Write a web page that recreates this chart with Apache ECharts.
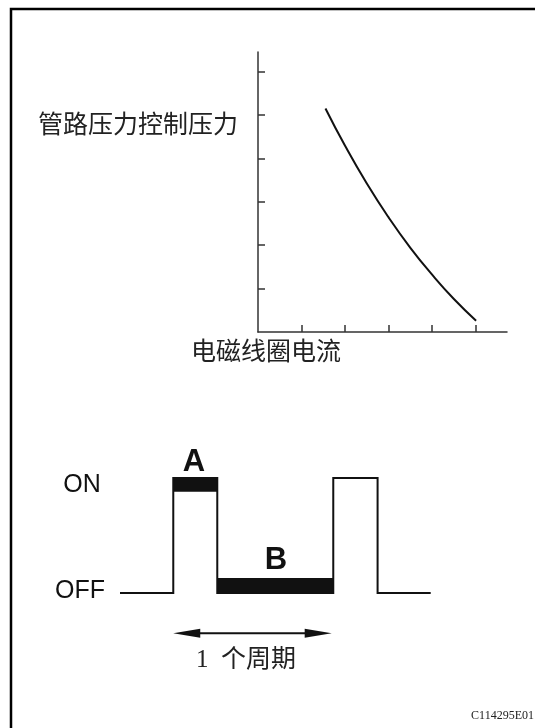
<!DOCTYPE html>
<html>
<head>
<meta charset="utf-8">
<script src="https://cdn.jsdelivr.net/npm/echarts@6/dist/echarts.min.js"></script>
<style>
  html, body { margin: 0; padding: 0; background: #fff; }
  #chart { width: 535px; height: 728px; }
</style>
</head>
<body>
<div id="chart"></div>
<script>
  // top: line pressure vs solenoid current
  var coilCurrent = [1.55, 2.0, 2.5, 3.0, 3.5, 4.0, 4.5, 5.01];
  var linePressure = [5.15, 4.29, 3.42, 2.64, 1.94, 1.32, 0.76, 0.26];
  var currentTicks = [1, 2, 3, 4, 5];
  var pressureTicks = [1, 2, 3, 4, 5, 6];

  // bottom: duty signal
  var pulseTime = [0, 3.33, 3.33, 6.08, 6.08, 13.33, 13.33, 16.1, 16.1, 19.42];
  var pulseState = [0, 0, 1, 1, 0, 0, 1, 1, 0, 0];
  var bandNames = ['A', 'B'];
  var bandFrom = [3.33, 6.08];
  var bandTo = [6.08, 13.33];
  var bandLow = [0.88, 0];
  var bandHigh = [1, 0.13];
  var periodFrom = 3.33;
  var periodTo = 13.23;
  var periodLevel = -0.35;

  var CJK = '"Noto Sans CJK SC", sans-serif';
  var INK = '#111';
  var HEAD_LEN = 27;
  var HEAD_HALF = 4.5;

  function zip(a, b) {
    return a.map(function (v, i) { return [v, b[i]]; });
  }

  var bands = bandFrom.map(function (v, i) {
    return { name: bandNames[i], value: [v, bandTo[i], bandLow[i], bandHigh[i]] };
  });

  function renderBand(params, api) {
    var p0 = api.coord([api.value(0), api.value(3)]);
    var p1 = api.coord([api.value(1), api.value(2)]);
    return {
      type: 'rect',
      shape: { x: p0[0], y: p0[1], width: p1[0] - p0[0], height: p1[1] - p0[1] },
      style: { fill: INK }
    };
  }

  // double-headed arrow spanning one period
  function renderPeriod(params, api) {
    var a = api.coord([api.value(0), api.value(2)]);
    var b = api.coord([api.value(1), api.value(2)]);
    var y = a[1];
    return {
      type: 'group',
      children: [
        {
          type: 'line',
          shape: { x1: a[0] + HEAD_LEN / 2, y1: y, x2: b[0] - HEAD_LEN / 2, y2: y },
          style: { stroke: INK, lineWidth: 2 }
        },
        {
          type: 'polygon',
          shape: { points: [[a[0], y], [a[0] + HEAD_LEN, y - HEAD_HALF], [a[0] + HEAD_LEN, y + HEAD_HALF]] },
          style: { fill: INK }
        },
        {
          type: 'polygon',
          shape: { points: [[b[0], y], [b[0] - HEAD_LEN, y - HEAD_HALF], [b[0] - HEAD_LEN, y + HEAD_HALF]] },
          style: { fill: INK }
        }
      ]
    };
  }

  var chart = echarts.init(document.getElementById('chart'), null, { renderer: 'canvas' });

  chart.setOption({
    animation: false,
    backgroundColor: '#fff',
    grid: [
      { left: 258, top: 52, width: 249, height: 280 },
      { left: 120, top: 478, width: 310.7, height: 184 }
    ],
    xAxis: [
      {
        gridIndex: 0, type: 'value', min: 0, max: 5.72,
        axisLine: { lineStyle: { color: '#333', width: 1.5 } },
        axisTick: { show: true, inside: true, length: 7, customValues: currentTicks, lineStyle: { color: '#333', width: 1.5 } },
        axisLabel: { show: false },
        splitLine: { show: false }
      },
      {
        gridIndex: 1, type: 'value', min: 0, max: 19.42, show: false
      }
    ],
    yAxis: [
      {
        gridIndex: 0, type: 'value', min: 0, max: 6.45,
        axisLine: { show: true, lineStyle: { color: '#333', width: 1.5 } },
        axisTick: { show: true, inside: true, length: 7, customValues: pressureTicks, lineStyle: { color: '#333', width: 1.5 } },
        axisLabel: { show: false },
        splitLine: { show: false }
      },
      {
        gridIndex: 1, type: 'value', min: -0.6, max: 1, show: false
      }
    ],
    series: [
      {
        type: 'line',
        xAxisIndex: 0, yAxisIndex: 0,
        data: zip(coilCurrent, linePressure),
        smooth: true,
        symbol: 'none',
        lineStyle: { color: INK, width: 2 }
      },
      {
        type: 'line',
        xAxisIndex: 1, yAxisIndex: 1,
        data: zip(pulseTime, pulseState),
        symbol: 'none',
        clip: false,
        lineStyle: { color: INK, width: 2, join: 'miter' }
      },
      {
        type: 'custom',
        xAxisIndex: 1, yAxisIndex: 1,
        renderItem: renderBand,
        data: bands
      },
      {
        type: 'custom',
        xAxisIndex: 1, yAxisIndex: 1,
        renderItem: renderPeriod,
        data: [[periodFrom, periodTo, periodLevel]]
      }
    ],
    graphic: [
      {
        type: 'rect', silent: true,
        shape: { x: 11, y: 9, width: 700, height: 900 },
        style: { fill: 'none', stroke: '#000', lineWidth: 2.5 }
      },
      {
        type: 'text', x: 238, y: 123,
        style: { text: '管路压力控制压力', font: '25px ' + CJK, fill: '#222', align: 'right', verticalAlign: 'middle' }
      },
      {
        type: 'text', x: 266, y: 350,
        style: { text: '电磁线圈电流', font: '25px ' + CJK, fill: '#222', align: 'center', verticalAlign: 'middle' }
      },
      {
        type: 'text', x: 82, y: 485,
        style: { text: 'ON', font: '25px "Liberation Sans", Arial, sans-serif', fill: INK, align: 'center', verticalAlign: 'middle' }
      },
      {
        type: 'text', x: 80, y: 591,
        style: { text: 'OFF', font: '25px "Liberation Sans", Arial, sans-serif', fill: INK, align: 'center', verticalAlign: 'middle' }
      },
      {
        type: 'text', x: 194, y: 462,
        style: { text: 'A', font: 'bold 31px "Liberation Sans", Arial, sans-serif', fill: INK, align: 'center', verticalAlign: 'middle' }
      },
      {
        type: 'text', x: 276, y: 560,
        style: { text: 'B', font: 'bold 31px "Liberation Sans", Arial, sans-serif', fill: INK, align: 'center', verticalAlign: 'middle' }
      },
      {
        type: 'text', x: 196, y: 660,
        style: { text: '1  个周期', font: '25px "Liberation Serif", ' + CJK, fill: '#222', align: 'left', verticalAlign: 'middle' }
      },
      {
        type: 'text', x: 534, y: 716,
        style: { text: 'C114295E01', font: '12px "Liberation Serif", serif', fill: '#222', align: 'right', verticalAlign: 'middle' }
      }
    ]
  });
</script>
</body>
</html>
